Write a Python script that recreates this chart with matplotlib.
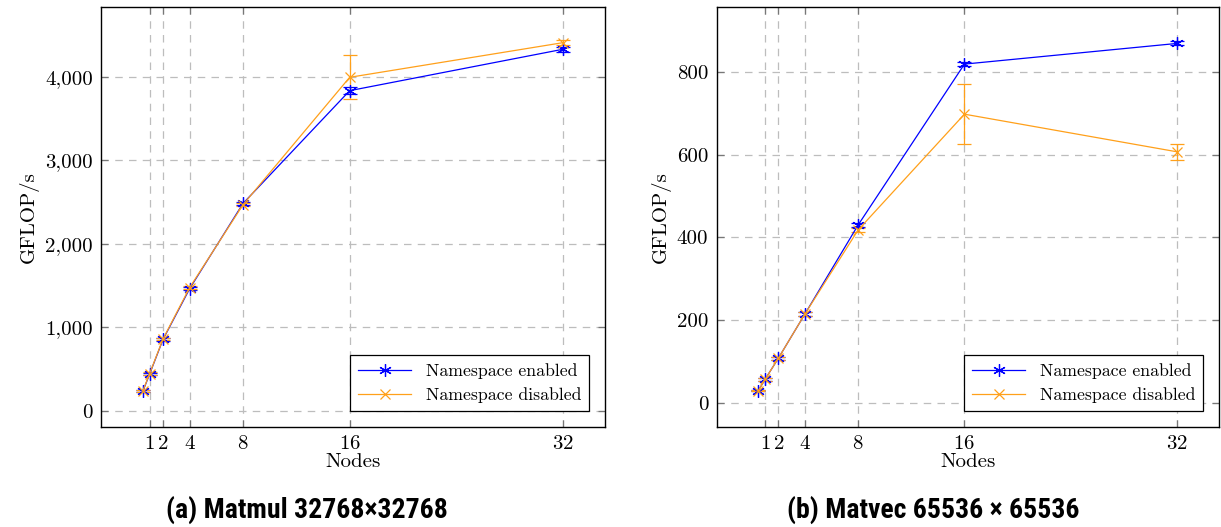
import matplotlib
matplotlib.use('Agg')
import matplotlib.pyplot as plt
from matplotlib.ticker import FuncFormatter

plt.rcParams.update({
    'font.family': ['cmr10', 'DejaVu Serif'],
    'mathtext.fontset': 'cm',
    'axes.unicode_minus': False,
    'axes.formatter.use_mathtext': True,
    'font.size': 15,
    'lines.linewidth': 0.9,
    'axes.linewidth': 1.0,
    'xtick.direction': 'in',
    'ytick.direction': 'in',
    'xtick.top': True,
    'ytick.right': True,
    'xtick.color': '#777777',
    'ytick.color': '#777777',
    'xtick.labelcolor': 'black',
    'ytick.labelcolor': 'black',
})

nodes = [0.5, 1, 2, 4, 8, 16, 32]
node_ticks = [1, 2, 4, 8, 16, 32]

# Matmul 32768x32768
mm_enabled = [240, 443, 856, 1465, 2485, 3836, 4332]
mm_enabled_err = [12, 15, 15, 20, 20, 45, 30]
mm_disabled = [245, 448, 862, 1478, 2470, 3996, 4411]
mm_disabled_err = [12, 15, 15, 20, 20, 262, 30]

# Matvec 65536 x 65536
mv_enabled = [30, 57, 108, 215, 430, 819, 869]
mv_enabled_err = [2, 3, 3, 4, 5, 5, 5]
mv_disabled = [30, 57, 108, 215, 418, 698, 607]
mv_disabled_err = [2, 3, 3, 4, 5, 73, 19]

blue = '#0000ff'
orange = '#ffa01a'

W, H = 1221, 527
fig = plt.figure(figsize=(W / 100, H / 100), dpi=100)
ax1 = fig.add_axes([101 / W, 1 - 427 / H, 504 / W, 420 / H])
ax2 = fig.add_axes([716.5 / W, 1 - 427 / H, 502.5 / W, 420 / H])

star = (6, 2, 0)


def panel(ax, en, en_err, dis, dis_err, ylim, yticks):
    e1 = ax.errorbar(nodes, en, yerr=en_err, color=blue, marker=star, ms=9, mew=0.9,
                     capsize=5, elinewidth=0.9, capthick=0.9, zorder=3)
    e2 = ax.errorbar(nodes, dis, yerr=dis_err, color=orange, marker='x', ms=7, mew=0.9,
                     capsize=5, elinewidth=0.9, capthick=0.9, zorder=3)
    ax.set_xlim(-2.65, 35.15)
    ax.set_ylim(*ylim)
    ax.set_xticks(node_ticks)
    ax.set_yticks(yticks)
    ax.yaxis.set_major_formatter(FuncFormatter(lambda v, p: f'{v:,.0f}'))
    ax.grid(True, color='#bdbdbd', linestyle=(0, (6, 5)), linewidth=0.9)
    ax.tick_params(length=5, width=0.9, pad=6)
    ax.set_xlabel('Nodes', labelpad=0)
    ax.set_ylabel('GFLOP/s')
    leg = ax.legend([e1[0], e2[0]], ['Namespace enabled', 'Namespace disabled'],
                    loc='lower right', fontsize=12.8, fancybox=False, framealpha=1,
                    edgecolor='black', handlelength=3.0, borderaxespad=0.9,
                    labelspacing=0.45, borderpad=0.45)
    leg.get_frame().set_linewidth(0.9)


panel(ax1, mm_enabled, mm_enabled_err, mm_disabled, mm_disabled_err,
      (-192, 4838), [0, 1000, 2000, 3000, 4000])
panel(ax2, mv_enabled, mv_enabled_err, mv_disabled, mv_disabled_err,
      (-58, 957), [0, 200, 400, 600, 800])

cap_font = ['DejaVu Sans Condensed', 'Liberation Sans Narrow', 'Roboto Condensed', 'DejaVu Sans']
fig.text(307 / W, 1 - 510 / H, '(a) Matmul 32768\u00d732768', ha='center', va='center',
         fontsize=20, fontweight='bold', family=cap_font, stretch='condensed')
fig.text(933 / W, 1 - 510 / H, '(b) Matvec 65536 \u00d7 65536', ha='center', va='center',
         fontsize=20, fontweight='bold', family=cap_font, stretch='condensed')

fig.savefig('out.png', dpi=100)
